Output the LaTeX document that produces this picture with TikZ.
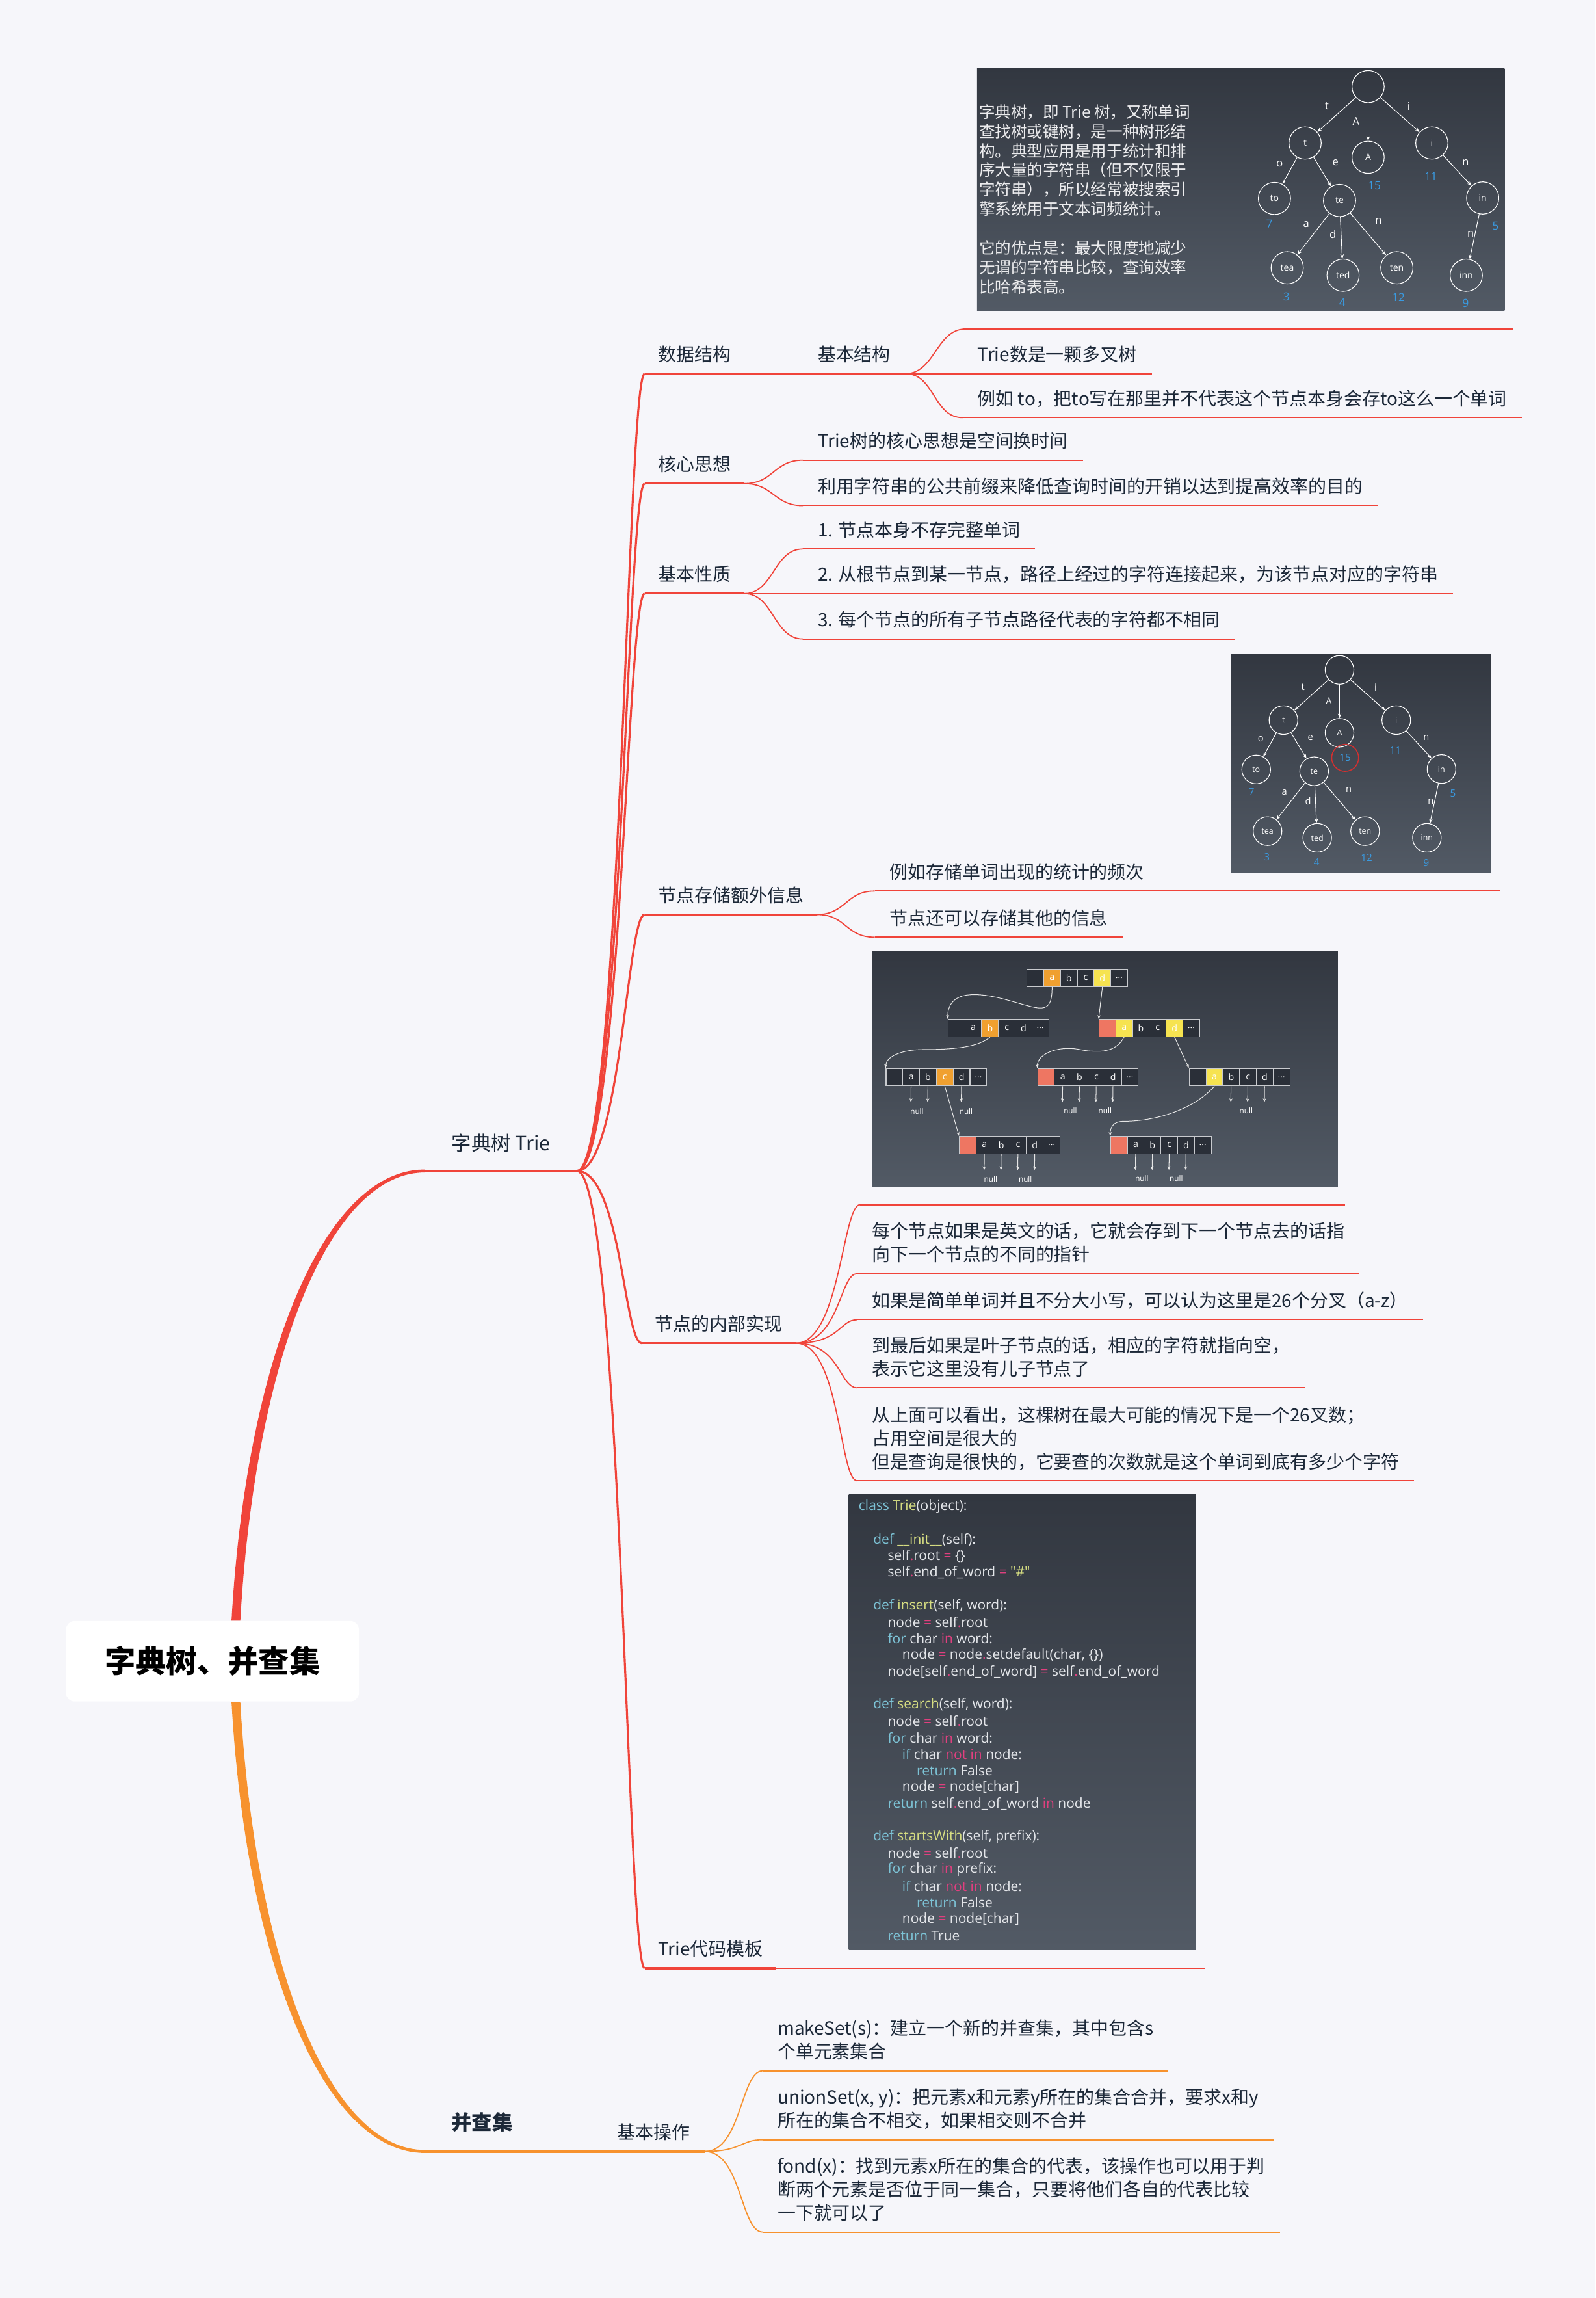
\documentclass[tikz,border=0pt]{standalone}
\usepackage{fontspec}
\newfontfamily\cjk{Noto Sans CJK SC}
\newfontfamily\latin{Open Sans}
\usetikzlibrary{arrows.meta}

\definecolor{paper}{RGB}{246,246,250}
\definecolor{ink}{RGB}{28,40,56}
\definecolor{trunkred}{RGB}{240,68,58}
\definecolor{trunkorange}{RGB}{247,146,46}
\definecolor{slatetop}{RGB}{50,55,64}
\definecolor{slatebot}{RGB}{82,90,101}
\definecolor{shotwhite}{RGB}{236,236,238}
\definecolor{numblue}{RGB}{58,154,224}
\definecolor{ringred}{RGB}{210,48,48}
\definecolor{slot}{RGB}{42,47,56}
\definecolor{slotline}{RGB}{200,202,206}
\definecolor{slotorange}{RGB}{240,160,48}
\definecolor{slotyellow}{RGB}{246,227,80}
\definecolor{slotred}{RGB}{238,118,98}
\definecolor{codekw}{RGB}{125,195,214}
\definecolor{codefn}{RGB}{214,221,130}
\definecolor{codeop}{RGB}{224,64,127}
\definecolor{codetxt}{RGB}{228,230,234}

\newcommand{\ckw}[1]{\textcolor{codekw}{#1}}
\newcommand{\cfn}[1]{\textcolor{codefn}{#1}}
\newcommand{\cop}[1]{\textcolor{codeop}{#1}}

\tikzset{
  rootbox/.style={fill=white, rounded corners=6pt, minimum width=200pt, minimum height=55pt,
    inner sep=0pt, text=black, font=\cjk\bfseries\fontsize{21}{24}\selectfont},
  branch/.style={anchor=south west, inner xsep=9pt, inner ysep=6.3pt, text depth=2pt,
    align=left, text=ink, font=\cjk\fontsize{12.4}{16}\selectfont},
  leaf/.style={branch, inner xsep=10pt},
  mainbranch/.style={branch, inner xsep=18pt, inner ysep=11.9pt, font=\cjk\fontsize{13.5}{16}\selectfont},
  trunk/.style={draw=trunkred, line width=2pt},
  limb/.style={draw=trunkred, line width=1.4pt},
  twig/.style={draw=trunkred, line width=0.8pt},
  shot/.style={top color=slatetop, bottom color=slatebot, draw=none, anchor=north west, inner sep=0pt},
  shottext/.style={anchor=west, align=left, inner sep=0pt, text=shotwhite,
    font=\cjk\fontsize{10.9}{13.2}\selectfont},
  tnode/.style={circle, draw=white, line width=0.5pt, minimum size=22pt, inner sep=0pt,
    text=white, font=\latin\fontsize{6.2}{7}\selectfont},
  tedge/.style={draw=white, line width=0.45pt, -{Stealth[length=3pt,width=2.3pt]}},
  tlab/.style={inner sep=0pt, text=white, font=\latin\fontsize{7.3}{8}\selectfont},
  tnum/.style={inner sep=0pt, text=numblue, font=\latin\fontsize{7.6}{8}\selectfont},
  slotcell/.style={draw=slotline, line width=0.5pt, minimum width=11.45pt, minimum height=11.8pt,
    inner sep=0pt, anchor=north west, text=white, font=\latin\fontsize{6.3}{7}\selectfont},
  wire/.style={draw=white!90!black, line width=0.45pt, -{Stealth[length=2.6pt,width=2pt]}},
  nulltext/.style={inner sep=0pt, text=white, font=\latin\fontsize{5.2}{6}\selectfont},
  codeline/.style={anchor=west, inner sep=0pt, text=codetxt, font=\latin\fontsize{9.3}{10}\selectfont}
}

% the small trie drawn in both screenshots
\newcommand{\trietree}{%
  \node[tnode] (root) at (0,0) {};
  \foreach \nm/\x/\y in {t/-43/38.5, A/0/48.2, i/43.5/38.5, to/-63.9/76.3, te/-19.5/77.7,
      in/78.2/76, tea/-55.2/123.6, ted/-17.1/128.7, ten/19.6/123.6, inn/67/128.7}
    \node[tnode] (\nm) at (\x,\y) {\nm};
  \foreach \a/\b in {root/t, root/A, root/i, t/to, t/te, i/in, te/tea, te/ted, te/ten, in/inn}
    \draw[tedge] (\a) -- (\b);
  \foreach \nm/\x/\y/\txt in {et/-28.1/13.4/t, eA/-8.2/23.7/A, ei/27.7/13.4/i, eo/-60.4/52.8/o,
      ee/-22.3/51.8/e, en1/66.5/51.9/n, ea/-42.3/93.9/a, ed/-24.1/100.7/d, en2/7.1/91.8/n, en3/70/100.7/n}
    \node[tlab] (\nm) at (\x,\y) {\txt};
  \foreach \x/\y/\v in {4.3/67.4/15, 42.8/61.5/11, -67.4/93.6/7, 87/94.9/5, -55.7/143.3/3,
      -17.6/147.3/4, 20.7/144/12, 66.6/148/9}
    \node[tnum] (n\v) at (\x,\y) {\v};
}

% one row of child slots: name, top left corner, colours of the first five cells
\newcommand{\slotrow}[7]{%
  \begin{scope}[shift={#2}]
    \foreach \lab/\col [count=\k from 0] in {{}/#3, a/#4, b/#5, c/#6, d/#7, \ldots/slot} {
      \node[slotcell, fill=\col] (#1-\k) at (\k*11.45,0) {\lab};
      \coordinate (#1-\k-low) at (\k*11.45+5.725,23.3);
    }
  \end{scope}}

\begin{document}
\begin{tikzpicture}[x=1pt, y=-1pt]
\useasboundingbox (0,0) rectangle (1089,1568);
\fill[paper] (0,0) rectangle (1089,1568);

% centre and the two main branches
\node[rootbox] (root) at (145,1133.5) {字典树、并查集};
\node[mainbranch] (trie) at (290,799) {字典树 Trie};
\node[mainbranch, inner ysep=12.7pt, font=\cjk\bfseries\fontsize{13.9}{16}\selectfont] (uf) at (290,1468) {并查集};

\fill[trunkred] ([xshift=13pt]root.north) .. controls +(10,-176) and +(-70,0) .. ([yshift=1pt]trie.south west)
  -- ([yshift=-1pt]trie.south west) .. controls +(-66,0) and +(10,-176) .. ([xshift=19pt]root.north) -- cycle;
\fill[trunkorange] ([xshift=13pt]root.south) .. controls +(10,176) and +(-70,0) .. ([yshift=-1pt]uf.south west)
  -- ([yshift=1pt]uf.south west) .. controls +(-66,0) and +(10,176) .. ([xshift=19pt]root.south) -- cycle;
\draw[trunk] (trie.south west) -- (trie.south east);

% Trie topics
\node[branch] (ds) at (440,255) {数据结构};
\node[branch] (core) at (440,330) {核心思想};
\node[branch] (prop) at (440,405) {基本性质};
\node[branch] (extra) at (440,624) {节点存储额外信息};
\node[branch] (impl) at (438,916.5) {节点的内部实现};
\node[branch] (tmpl) at (440,1343) {Trie代码模板};
\foreach \n in {ds,core,prop,extra,impl,tmpl} {
  \draw[limb] (trie.south east) .. controls +(30,0) and +(-12,0) .. (\n.south west);
  \draw[limb] (\n.south west) -- (\n.south east);
}

\node[leaf] (ds-basic) at (548,255) {基本结构};
\node[leaf] (ds-multi) at (657,255) {Trie数是一颗多叉树};
\node[leaf] (ds-to) at (657,285) {例如 to，把to写在那里并不代表这个节点本身会存to这么一个单词};
\node[leaf] (core-a) at (548,314) {Trie树的核心思想是空间换时间};
\node[leaf] (core-b) at (548,345) {利用字符串的公共前缀来降低查询时间的开销以达到提高效率的目的};
\node[leaf] (prop-a) at (548,374.6) {1. 节点本身不存完整单词};
\node[leaf] (prop-b) at (548,405) {2. 从根节点到某一节点，路径上经过的字符连接起来，为该节点对应的字符串};
\node[leaf] (prop-c) at (548,436) {3. 每个节点的所有子节点路径代表的字符都不相同};
\node[leaf] (extra-a) at (597,608) {例如存储单词出现的统计的频次};
\node[leaf] (extra-b) at (597,639.5) {节点还可以存储其他的信息};
\node[leaf] (impl-a) at (585,869) {每个节点如果是英文的话，它就会存到下一个节点去的话指\\向下一个节点的不同的指针};
\node[leaf] (impl-b) at (585,900.5) {如果是简单单词并且不分大小写，可以认为这里是26个分叉（a-z）};
\node[leaf] (impl-c) at (585,947) {到最后如果是叶子节点的话，相应的字符就指向空，\\表示它这里没有儿子节点了};
\node[leaf] (impl-d) at (585,1010.4) {从上面可以看出，这棵树在最大可能的情况下是一个26叉数；\\占用空间是很大的\\但是查询是很快的，它要查的次数就是这个单词到底有多少个字符};

\coordinate (shot-def-l) at (659,224.5);
\coordinate (shot-def-r) at (1033,224.5);
\coordinate (extra-a-r) at (1024,608);
\coordinate (shot-arr-l) at (587,822);
\coordinate (shot-arr-r) at (918,822);
\coordinate (tmpl-r) at (822,1343);

\foreach \n in {ds-basic,ds-multi,ds-to,core-a,core-b,prop-a,prop-b,prop-c,extra-b,impl-a,impl-b,impl-c,impl-d}
  \draw[twig] (\n.south west) -- (\n.south east);
\draw[twig] (shot-def-l) -- (shot-def-r);
\draw[twig] (extra-a.south west) -- (extra-a-r);
\draw[twig] (shot-arr-l) -- (shot-arr-r);
\draw[twig] (tmpl.south east) -- (tmpl-r);

\draw[twig] (ds.south east) -- (ds-basic.south west);
\foreach \n in {shot-def-l, ds-multi.south west, ds-to.south west}
  \draw[twig] (ds-basic.south east) .. controls +(20,0) and +(-20,0) .. (\n);
\foreach \n in {core-a,core-b}
  \draw[twig] (core.south east) .. controls +(20,0) and +(-20,0) .. (\n.south west);
\foreach \n in {prop-a,prop-b,prop-c}
  \draw[twig] (prop.south east) .. controls +(20,0) and +(-20,0) .. (\n.south west);
\foreach \n in {extra-a,extra-b}
  \draw[twig] (extra.south east) .. controls +(20,0) and +(-20,0) .. (\n.south west);
\foreach \n in {shot-arr-l, impl-a.south west, impl-b.south west, impl-c.south west, impl-d.south west}
  \draw[twig] (impl.south east) .. controls +(30,0) and +(-12,0) .. (\n);

% screenshot: definition
\node[shot, minimum width=360pt, minimum height=165pt] (shot-def) at (666.6,46.6) {};
\node[shottext] (def-text) at (668,109.45) {字典树，即 Trie 树，又称单词\\查找树或键树，是一种树形结\\构。典型应用是用于统计和排\\序大量的字符串（但不仅限于\\字符串），所以经常被搜索引\\擎系统用于文本词频统计。};
\node[shottext] (def-merit) at (668,182.4) {它的优点是：最大限度地减少\\无谓的字符串比较，查询效率\\比哈希表高。};
\begin{scope}[shift={(933.7,59.1)}, name prefix=ta-]
  \trietree
\end{scope}

% screenshot: counts
\node[shot, minimum width=177.6pt, minimum height=149.4pt] (shot-freq) at (840,446) {};
\begin{scope}[shift={(914.2,457.1)}, scale=0.89, transform shape, name prefix=tb-]
  \trietree
\end{scope}
\draw[ringred, line width=0.7pt] (tb-n15) circle[radius=9.2pt];

% screenshot: slot arrays
\node[shot, minimum width=318pt, minimum height=160.4pt] (shot-arr) at (594.8,648.7) {};
\slotrow{A0}{(700.6,661.2)}{slot}{slotorange}{slot}{slot}{slotyellow}
\slotrow{A1}{(646.8,695.3)}{slot}{slot}{slotorange}{slot}{slot}
\slotrow{A2}{(749.8,695.3)}{slotred}{slotyellow}{slot}{slot}{slotyellow}
\slotrow{A3}{(604.5,728.8)}{slot}{slot}{slot}{slotorange}{slot}
\slotrow{A4}{(707.9,728.8)}{slotred}{slot}{slot}{slot}{slot}
\slotrow{A5}{(811.4,728.8)}{slot}{slotyellow}{slot}{slot}{slot}
\slotrow{A6}{(654.5,775.1)}{slotred}{slot}{slot}{slot}{slot}
\slotrow{A7}{(757.7,775.1)}{slotred}{slot}{slot}{slot}{slot}

\draw[wire] (A0-1.south) .. controls +(0,20) and +(22,6) .. ++(-30,9)
  .. controls +(-25,-7) and +(0,-18) .. (A1-0.north west);
\draw[wire] (A0-4.south) -- (A2-0.north west);
\draw[wire] (A1-2.south) .. controls +(-8,7) and +(20,0) .. ++(-45,8.5)
  .. controls +(-15,0) and +(0,-8) .. (A3-0.north west);
\draw[wire] (A2-1.south) .. controls +(-5,9) and +(15,2) .. ++(-28,9)
  .. controls +(-16,-4) and +(0,-10) .. (A4-0.north west);
\draw[wire] (A2-4.south) -- (A5-0.north west);
\draw[wire] (A3-3.south) -- (A6-0.north west);
\draw[wire] (A5-1.south) .. controls +(-12,14) and +(25,0) .. ++(-62,24)
  .. controls +(-7,0) and +(0,-6) .. (A7-0.north west);
\foreach \rw/\k in {A3/1,A3/2,A3/4,A4/1,A4/2,A4/3,A4/4,A5/2,A5/3,A5/4,
    A6/1,A6/2,A6/3,A6/4,A7/1,A7/2,A7/3,A7/4}
  \draw[wire] (\rw-\k) -- (\rw-\k-low);
\foreach \x/\y [count=\j] in {625.8/758.4, 659.3/758.4, 730.5/758, 754.2/758, 850.5/758,
    676.1/804.4, 699.8/804.4, 779.3/804, 802.8/804}
  \node[nulltext] (null\j) at (\x,\y) {null};

% screenshot: code
\node[shot, minimum width=237pt, minimum height=310.3pt] (shot-code) at (579.1,1019.7) {};
\foreach \row/\ind/\txt in {
  1/0/{\ckw{class} \cfn{Trie}(object):},
  3/1/{\ckw{def} \cfn{\_\_init\_\_}(self):},
  4/2/{self\cop{.}root \cop{=} \{\}},
  5/2/{self\cop{.}end\_of\_word \cop{=} \cfn{"\#"}},
  7/1/{\ckw{def} \cfn{insert}(self, word):},
  8/2/{node \cop{=} self\cop{.}root},
  9/2/{\ckw{for} char \cop{in} word:},
  10/3/{node \cop{=} node\cop{.}setdefault(char, \{\})},
  11/2/{node[self\cop{.}end\_of\_word] \cop{=} self\cop{.}end\_of\_word},
  13/1/{\ckw{def} \cfn{search}(self, word):},
  14/2/{node \cop{=} self\cop{.}root},
  15/2/{\ckw{for} char \cop{in} word:},
  16/3/{\ckw{if} char \cop{not in} node:},
  17/4/{\ckw{return} False},
  18/3/{node \cop{=} node[char]},
  19/2/{\ckw{return} self\cop{.}end\_of\_word \cop{in} node},
  21/1/{\ckw{def} \cfn{startsWith}(self, prefix):},
  22/2/{node \cop{=} self\cop{.}root},
  23/2/{\ckw{for} char \cop{in} prefix:},
  24/3/{\ckw{if} char \cop{not in} node:},
  25/4/{\ckw{return} False},
  26/3/{node \cop{=} node[char]},
  27/2/{\ckw{return} True}}
  \node[codeline] (code-\row) at ({585.9+\ind*9.9},{1028+(\row-1)*11.26}) {\txt};

% union-find
\node[leaf] (uf-ops) at (411,1468) {基本操作};
\draw[draw=trunkorange, line width=1.8pt] (uf.south west) -- (uf.south east) -- (uf-ops.south west) -- (uf-ops.south east);
\node[leaf] (uf-make) at (520.5,1413) {makeSet(s)：建立一个新的并查集，其中包含s\\个单元素集合};
\node[leaf] (uf-union) at (520.5,1460) {unionSet(x, y)：把元素x和元素y所在的集合合并，要求x和y\\所在的集合不相交，如果相交则不合并};
\node[leaf] (uf-find) at (520.5,1523) {fond(x)：找到元素x所在的集合的代表，该操作也可以用于判\\断两个元素是否位于同一集合，只要将他们各自的代表比较\\一下就可以了};
\foreach \n in {uf-make,uf-union,uf-find} {
  \draw[twig, draw=trunkorange] (uf-ops.south east) .. controls +(25,0) and +(-15,0) .. (\n.south west);
  \draw[twig, draw=trunkorange] (\n.south west) -- (\n.south east);
}
\end{tikzpicture}
\end{document}
